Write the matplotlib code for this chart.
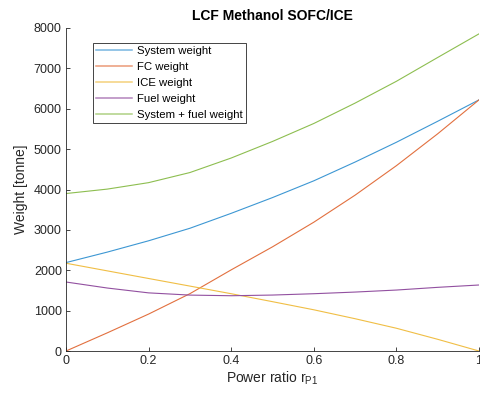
import matplotlib
matplotlib.use('Agg')
import matplotlib.pyplot as plt

plt.rcParams['font.family'] = ['Liberation Sans', 'DejaVu Sans']
plt.rcParams['mathtext.fontset'] = 'custom'
plt.rcParams['mathtext.rm'] = 'Liberation Sans'

# Power ratio r_P1 and weights in tonnes
power_ratio = [0.0, 0.1, 0.2, 0.3, 0.4, 0.5, 0.6, 0.7, 0.8, 0.9, 1.0]
system_weight = [2190, 2450, 2730, 3040, 3410, 3800, 4215, 4680, 5170, 5690, 6220]
fc_weight = [0, 450, 915, 1420, 2010, 2580, 3190, 3860, 4590, 5380, 6220]
ice_weight = [2174, 1985, 1796, 1608, 1419, 1222, 1021, 800, 564, 290, 0]
fuel_weight = [1709, 1560, 1440, 1385, 1369, 1386, 1419, 1460, 1510, 1577, 1635]
total_weight = [3900, 4010, 4170, 4420, 4780, 5190, 5635, 6140, 6680, 7270, 7855]

labels = ['System weight', 'FC weight', 'ICE weight', 'Fuel weight', 'System + fuel weight']
colors = ['#3D97D3', '#E2703F', '#F0BE45', '#9250A0', '#8DBE50']
series = [system_weight, fc_weight, ice_weight, fuel_weight, total_weight]

fig = plt.figure(figsize=(4.8, 3.96), dpi=100)
ax = fig.add_axes([0.1375, 0.1136, 0.8604, 0.8157])

for vals, lab, col in zip(series, labels, colors):
    ax.plot(power_ratio, vals, color=col, linewidth=0.8, label=lab)

ax.set_xlim(0, 1)
ax.set_ylim(0, 8000)
ax.set_xticks([0, 0.2, 0.4, 0.6, 0.8, 1])
ax.set_xticklabels(['0', '0.2', '0.4', '0.6', '0.8', '1'])
ax.set_yticks(range(0, 8001, 1000))

for side in ['top', 'right']:
    ax.spines[side].set_visible(False)
for side in ['left', 'bottom']:
    ax.spines[side].set_color('#262626')
    ax.spines[side].set_linewidth(0.6)
ax.tick_params(direction='in', length=3, width=0.6, color='#262626',
               labelsize=9, labelcolor='#262626', pad=3)

ax.set_title('LCF Methanol SOFC/ICE', fontsize=10, fontweight='bold', color='#000000', pad=6)
ax.set_xlabel(r'Power ratio r$_{\rm P1}$', fontsize=10, color='#262626', labelpad=2)
ax.set_ylabel('Weight [tonne]', fontsize=10, color='#262626', labelpad=4)

leg = ax.legend(loc='upper left', bbox_to_anchor=(0.065, 0.955), fontsize=8.2,
                frameon=True, fancybox=False, edgecolor='#262626', framealpha=1,
                handlelength=3.1, handletextpad=0.45, labelspacing=0.52,
                borderpad=0.3, borderaxespad=0)
leg.get_frame().set_linewidth(0.6)
for line in leg.get_lines():
    line.set_linewidth(1.1)
    line.set_alpha(0.7)

fig.savefig('out.png', dpi=100)
